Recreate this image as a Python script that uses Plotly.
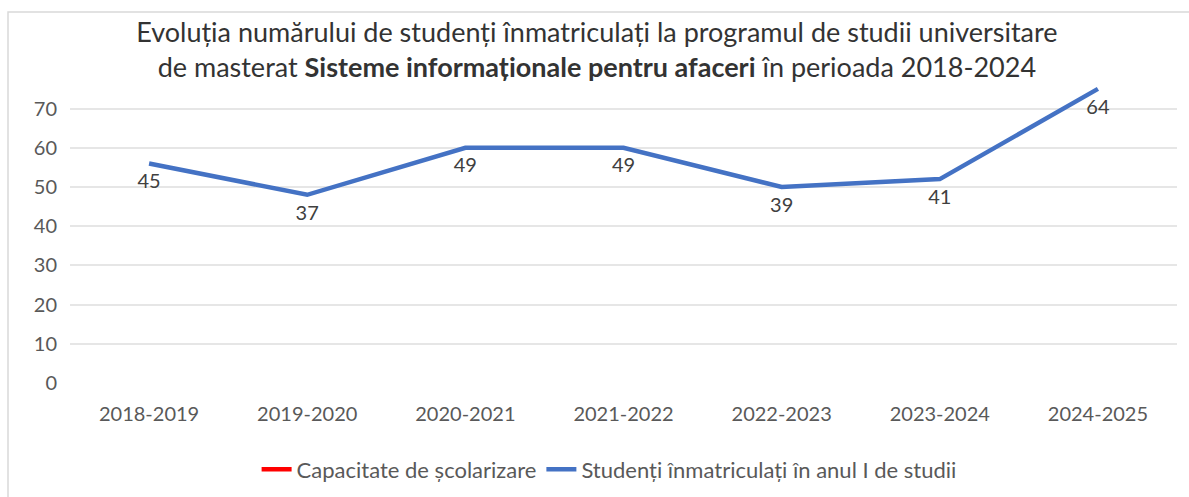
import plotly.graph_objects as go

years = ["2018-2019", "2019-2020", "2020-2021", "2021-2022", "2022-2023", "2023-2024", "2024-2025"]
# positions of the blue line as read on the y axis
students_plot = [56, 48, 60, 60, 50, 52, 75]
# data labels printed on the chart
students_labels = ["45", "37", "49", "49", "39", "41", "64"]
# capacity series: not visible in the picture
capacity = [None] * 7
y_ticks = [0, 10, 20, 30, 40, 50, 60, 70]

FONT = "Lato"

fig = go.Figure()
fig.add_trace(go.Scatter(
    x=years, y=capacity, mode="lines", name="Capacitate de școlarizare",
    line=dict(color="#FF0000", width=4.5),
))
fig.add_trace(go.Scatter(
    x=years, y=students_plot, mode="lines+markers+text",
    name="Studenți înmatriculați în anul I de studii",
    line=dict(color="#4472C4", width=4.5),
    marker=dict(size=14, color="rgba(0,0,0,0)"),
    text=students_labels, textposition="bottom center",
    textfont=dict(family=FONT, size=20, color="#404040"),
))

fig.update_layout(
    width=1189, height=497,
    paper_bgcolor="white", plot_bgcolor="white",
    margin=dict(l=70, r=12, t=85, b=114, autoexpand=False),
    title=dict(
        text="Evoluția numărului de studenți înmatriculați la programul de studii universitare<br>"
             "de masterat <b>Sisteme informaționale pentru afaceri</b> în perioada 2018-2024",
        xref="container", x=0.502, xanchor="center",
        yref="container", y=0.915, yanchor="top",
        font=dict(family=FONT, size=27, color="#333333"),
    ),
    xaxis=dict(
        type="category", showgrid=False, showline=False, ticks="",
        tickfont=dict(family=FONT, size=20, color="#595959"),
        range=[-0.5, 6.5], ticklabelstandoff=17, automargin=False,
    ),
    yaxis=dict(
        range=[0, 76], tickvals=y_ticks, showgrid=True, gridcolor="#E6E6E6", gridwidth=2,
        zeroline=False, showline=False, ticks="",
        tickfont=dict(family=FONT, size=20, color="#595959"),
        ticklabelstandoff=12, automargin=False,
    ),
    legend=dict(
        orientation="h", x=0.487, xanchor="center", y=-0.29, yanchor="middle",
        font=dict(family=FONT, size=22, color="#595959"),
        itemwidth=30,
    ),
    showlegend=True,
)
fig.add_shape(type="rect", xref="paper", yref="paper",
              x0=-0.056, x1=1.03, y0=-0.5, y1=1.245,
              line=dict(color="#D9D9D9", width=1.5), layer="below")

fig.write_html("out.html", config={"displayModeBar": False},
               post_script="document.body.style.margin='0';")
